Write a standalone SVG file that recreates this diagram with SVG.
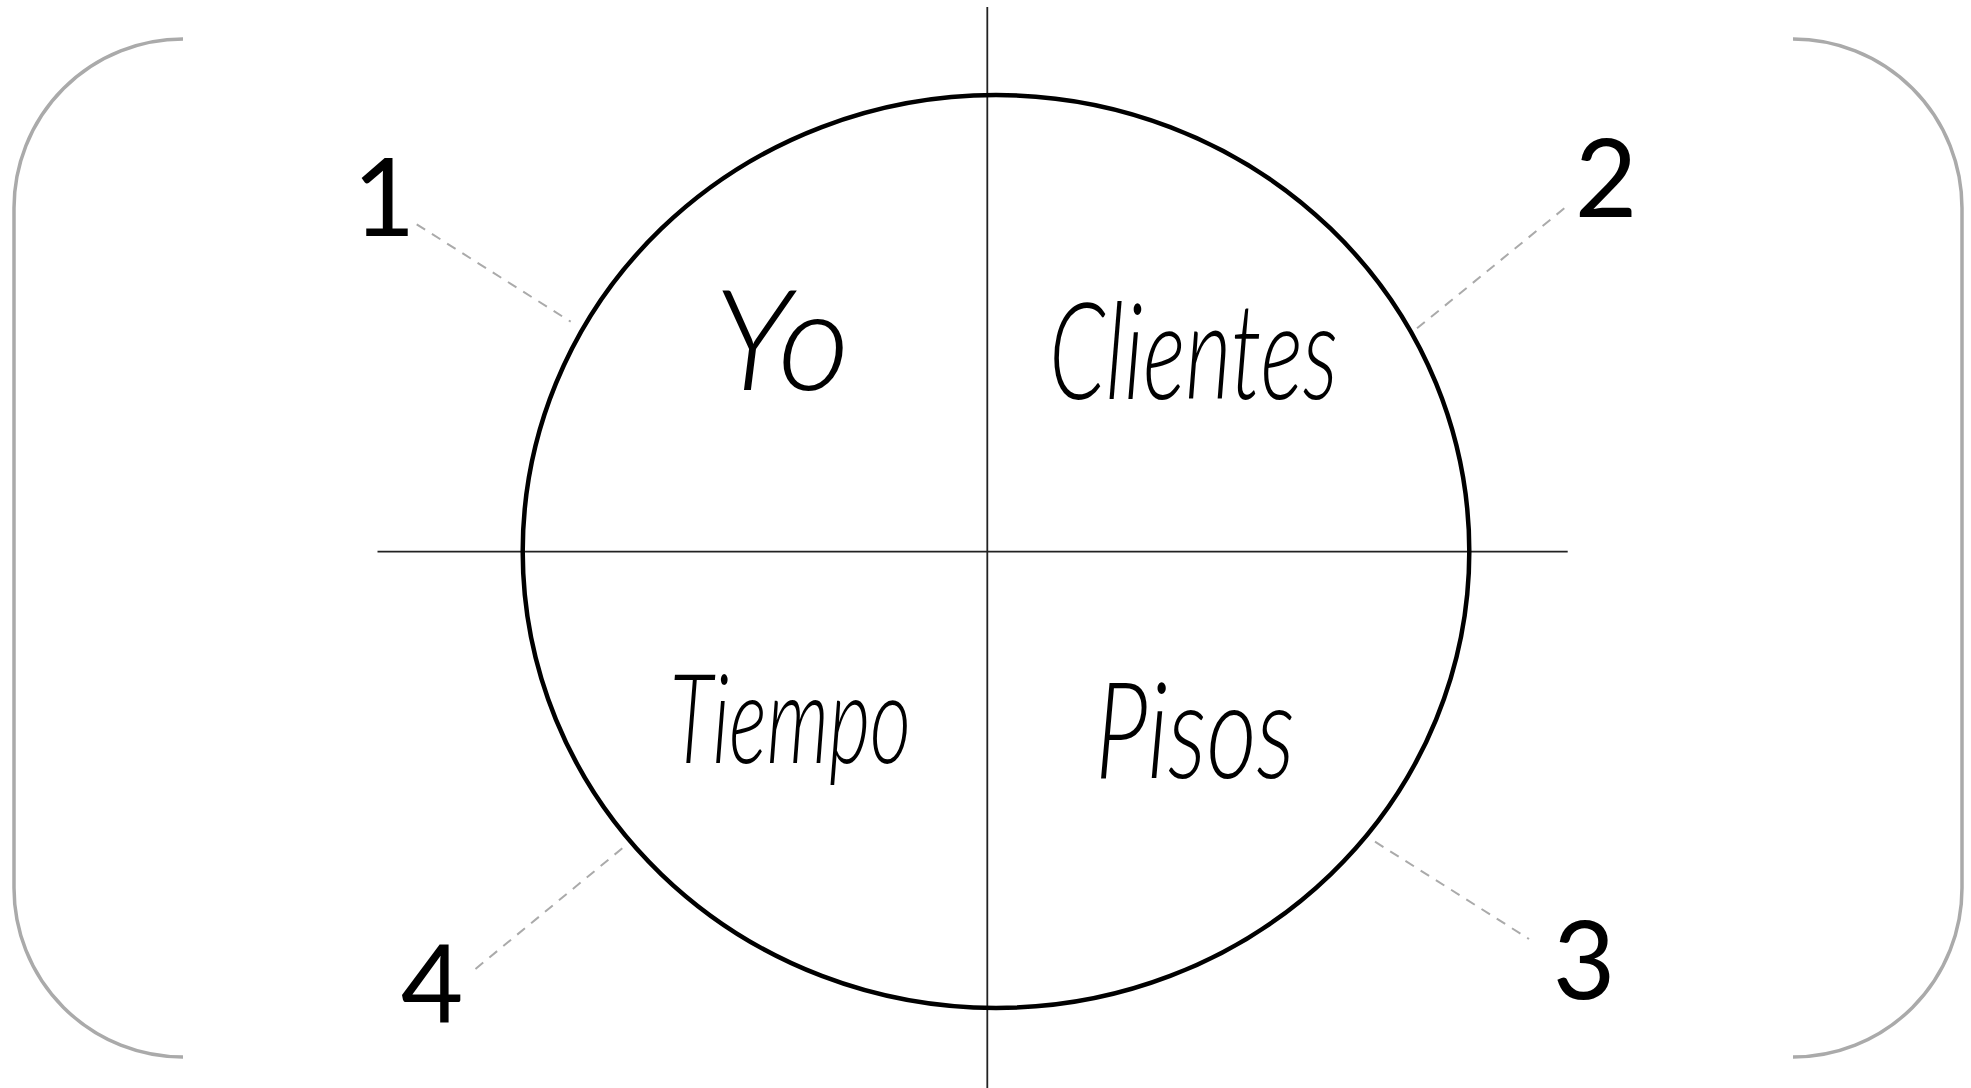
<svg xmlns="http://www.w3.org/2000/svg" width="1971" height="1088" viewBox="0 0 1971 1088">
  <style>
    .bracket { fill: none; stroke: #aaaaaa; stroke-width: 3.5; }
    .axis { stroke: #222222; stroke-width: 1.8; fill: none; }
    .ring { fill: none; stroke: #000000; stroke-width: 4.5; }
    .lead { stroke: #aaaaaa; stroke-width: 2; stroke-dasharray: 10 8; fill: none; }
    .word { font-family: "Lato", "Liberation Serif", serif; font-style: italic; font-weight: 300; fill: #000000; }
    .num { font-family: "Lato", "Liberation Sans", sans-serif; font-weight: 400; font-size: 108px; fill: #000000; text-anchor: middle; }
  </style>
  <rect width="1971" height="1088" fill="#ffffff"/>

  <g id="frame">
    <path class="bracket" d="M183,39 A169,169 0 0 0 14,208 L14,888 A169,169 0 0 0 183,1057"/>
    <path class="bracket" d="M1793,39 A169,169 0 0 1 1962,208 L1962,888 A169,169 0 0 1 1793,1057"/>
  </g>

  <g id="axes">
    <line class="axis" x1="987.3" y1="7" x2="987.3" y2="1088"/>
    <line class="axis" x1="377.5" y1="551.7" x2="1567.7" y2="551.7"/>
  </g>

  <g id="circle">
    <ellipse class="ring" cx="996" cy="551.5" rx="473.3" ry="456.5"/>
  </g>

  <g id="connectors">
    <line class="lead" x1="416.7" y1="224.3" x2="570.7" y2="321.7"/>
    <line class="lead" x1="1564.3" y1="208.3" x2="1415" y2="330"/>
    <line class="lead" x1="1375" y1="841.7" x2="1529" y2="939"/>
    <line class="lead" x1="622.3" y1="848.3" x2="475" y2="969.3"/>
  </g>

  <g id="q-yo">
    <text class="word" x="782" y="390" font-size="140" text-anchor="middle">Yo</text>
  </g>
  <g id="q-clientes">
    <text class="word" x="1049" y="399" font-size="135" textLength="289" lengthAdjust="spacingAndGlyphs">Clientes</text>
  </g>
  <g id="q-tiempo">
    <text class="word" x="670" y="763" font-size="125" textLength="241" lengthAdjust="spacingAndGlyphs">Tiempo</text>
  </g>
  <g id="q-pisos">
    <text class="word" x="1095" y="778" font-size="135" textLength="200" lengthAdjust="spacingAndGlyphs">Pisos</text>
  </g>

  <g id="n1"><text class="num" x="384" y="236">1</text></g>
  <g id="n2"><text class="num" x="1606" y="217">2</text></g>
  <g id="n3"><text class="num" x="1584" y="999">3</text></g>
  <g id="n4"><text class="num" x="432" y="1023">4</text></g>
</svg>
